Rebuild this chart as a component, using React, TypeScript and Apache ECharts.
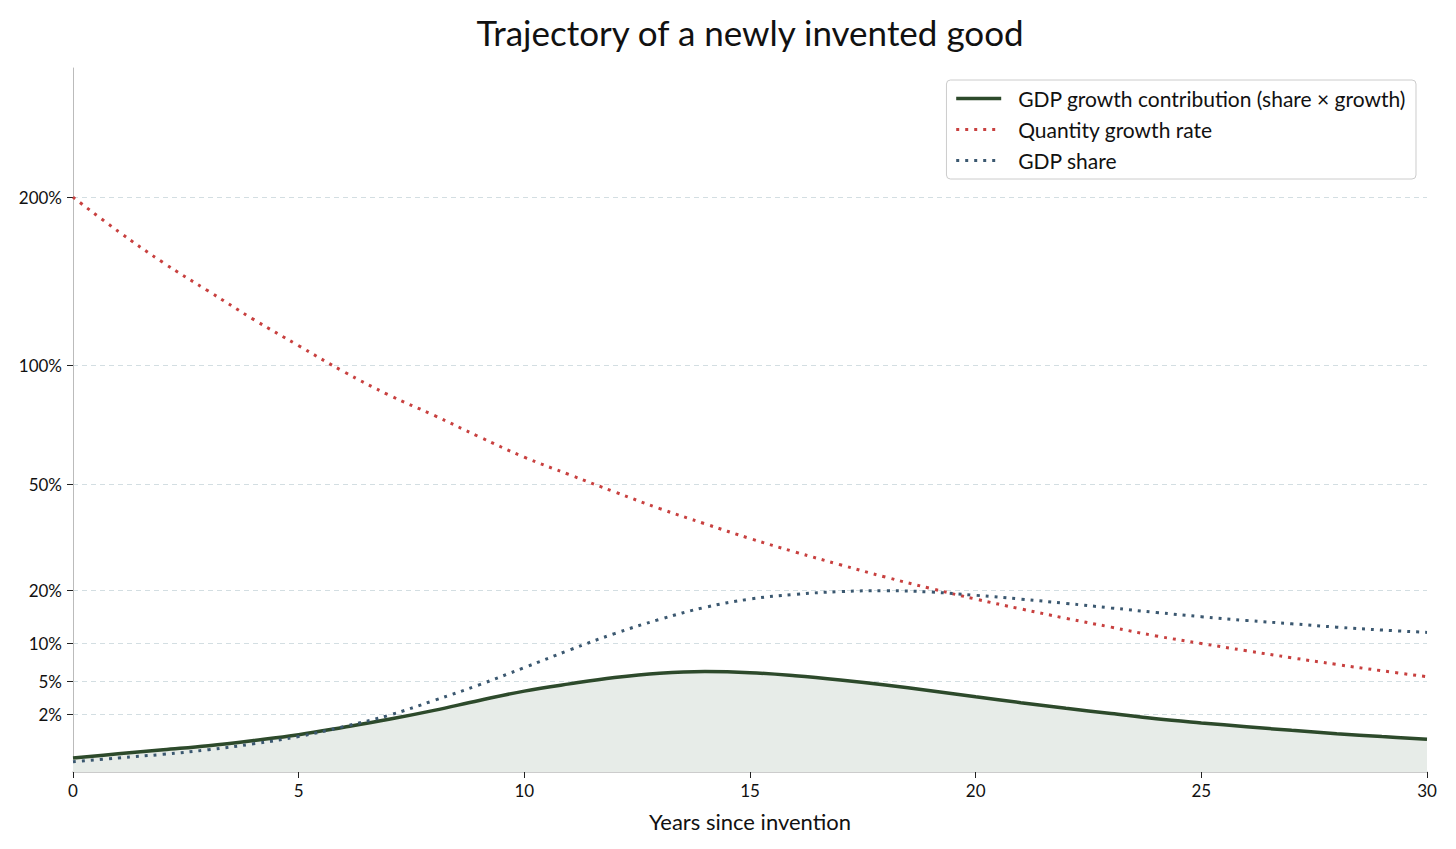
import React, { useEffect, useRef } from 'react';
import * as echarts from 'echarts';

const years = [0, 1, 2, 3, 4, 5, 6, 7, 8, 9, 10, 11, 12, 13, 14, 15, 16, 17, 18, 19, 20, 21, 22, 23, 24, 25, 26, 27, 28, 29, 30];
// values in percent
const quantityGrowth = [200, 177, 157, 140, 124, 110, 97, 86, 77, 68, 60, 53.5, 47.5, 42, 37.3, 33, 29.3, 26, 23, 20.4, 18.1, 16.1, 14.3, 12.7, 11.2, 10, 8.9, 7.9, 7.0, 6.2, 5.5];
const gdpShare = [0.065, 0.12, 0.19, 0.3, 0.48, 0.76, 1.25, 1.95, 3.1, 4.6, 6.6, 9.0, 11.6, 14.1, 16.4, 18.1, 19.1, 19.7, 19.9, 19.6, 18.9, 18.1, 17.2, 16.3, 15.4, 14.6, 13.9, 13.3, 12.7, 12.2, 11.8];
const contribution = [0.12, 0.2, 0.3, 0.42, 0.6, 0.84, 1.21, 1.68, 2.3, 3.1, 3.96, 4.7, 5.4, 5.9, 6.1, 5.97, 5.6, 5.12, 4.58, 4.0, 3.42, 2.91, 2.46, 2.07, 1.72, 1.46, 1.24, 1.05, 0.89, 0.76, 0.65];
const yTicks = [2, 5, 10, 20, 50, 100, 200];
const yMaxPct = 300;
const seriesNames = ['GDP growth contribution (share × growth)', 'Quantity growth rate', 'GDP share'];
const seriesColors = ['#2d4a2b', '#c8403f', '#3b5870'];

const FONT = 'Lato, "Open Sans", sans-serif';
const toPairs = (vals: number[]) => years.map((x, i) => [x, Math.sqrt(vals[i])]);

export default function App() {
  const ref = useRef<HTMLDivElement>(null);
  useEffect(() => {
    if (!ref.current) return;
    document.body.style.margin = '0';
    const chart = echarts.init(ref.current, null, { renderer: 'svg' });
    const tickPos = yTicks.map((v) => Math.sqrt(v));
    const dotted = [3, 6];
    chart.setOption({
      animation: false,
      backgroundColor: '#ffffff',
      graphic: [
        {
          type: 'text',
          x: 750,
          y: 32,
          style: {
            text: 'Trajectory of a newly invented good',
            fontFamily: FONT,
            fontSize: 35,
            fill: '#111',
            textAlign: 'center',
            textVerticalAlign: 'middle',
          },
        },
      ],
      legend: {
        orient: 'vertical',
        right: 40,
        top: 80,
        itemWidth: 45,
        itemHeight: 14,
        itemGap: 10,
        padding: [8, 10, 8, 8],
        borderColor: '#cccccc',
        borderWidth: 1,
        borderRadius: 4,
        backgroundColor: 'rgba(255,255,255,0.9)',
        itemStyle: { opacity: 0 },
        textStyle: { fontFamily: FONT, fontSize: 21, color: '#111', lineHeight: 21, padding: [0, 0, 0, 12] },
        data: [
          { name: seriesNames[0], lineStyle: { color: seriesColors[0], width: 3.5, type: 'solid' } },
          { name: seriesNames[1], lineStyle: { color: seriesColors[1], width: 3, type: dotted } },
          { name: seriesNames[2], lineStyle: { color: seriesColors[2], width: 3, type: dotted } },
        ],
      },
      grid: { left: 73, right: 29, top: 68, bottom: 77 },
      xAxis: {
        type: 'value',
        min: 0,
        max: 30,
        interval: 5,
        name: 'Years since invention',
        nameLocation: 'middle',
        nameGap: 38,
        nameTextStyle: { fontFamily: FONT, fontSize: 22, color: '#111' },
        axisLine: { show: true, lineStyle: { color: '#bbbbbb', width: 1.5 } },
        axisTick: { show: true, length: 6, lineStyle: { color: '#222', width: 1 } },
        axisLabel: { fontFamily: FONT, fontSize: 17, color: '#111', margin: 10 },
        splitLine: { show: false },
      },
      yAxis: {
        type: 'value',
        min: 0,
        max: Math.sqrt(yMaxPct),
        axisLine: { show: true, lineStyle: { color: '#bbbbbb', width: 1 } },
        axisTick: { show: true, length: 6, lineStyle: { color: '#222', width: 1 }, customValues: tickPos },
        axisLabel: {
          fontFamily: FONT,
          fontSize: 17,
          color: '#111',
          margin: 11,
          customValues: tickPos,
          formatter: (v: number) => Math.round(v * v) + '%',
        },
        splitLine: { show: true, lineStyle: { color: '#d3dee2', width: 1, type: [5, 4] } },
      },
      series: [
        {
          name: seriesNames[0],
          type: 'line',
          data: toPairs(contribution),
          smooth: 0.4,
          symbol: 'none',
          lineStyle: { color: seriesColors[0], width: 3.5 },
          itemStyle: { color: seriesColors[0] },
          areaStyle: { color: '#e7ece8', opacity: 1 },
          z: 2,
        },
        {
          name: seriesNames[1],
          type: 'line',
          data: toPairs(quantityGrowth),
          smooth: 0.4,
          symbol: 'none',
          lineStyle: { color: seriesColors[1], width: 3, type: dotted },
          itemStyle: { color: seriesColors[1] },
          z: 3,
        },
        {
          name: seriesNames[2],
          type: 'line',
          data: toPairs(gdpShare),
          smooth: 0.4,
          symbol: 'none',
          lineStyle: { color: seriesColors[2], width: 3, type: dotted },
          itemStyle: { color: seriesColors[2] },
          z: 3,
        },
      ],
    });
    return () => chart.dispose();
  }, []);
  return <div ref={ref} style={{ position: 'fixed', left: 0, top: 0, width: 1456, height: 849 }} />;
}
